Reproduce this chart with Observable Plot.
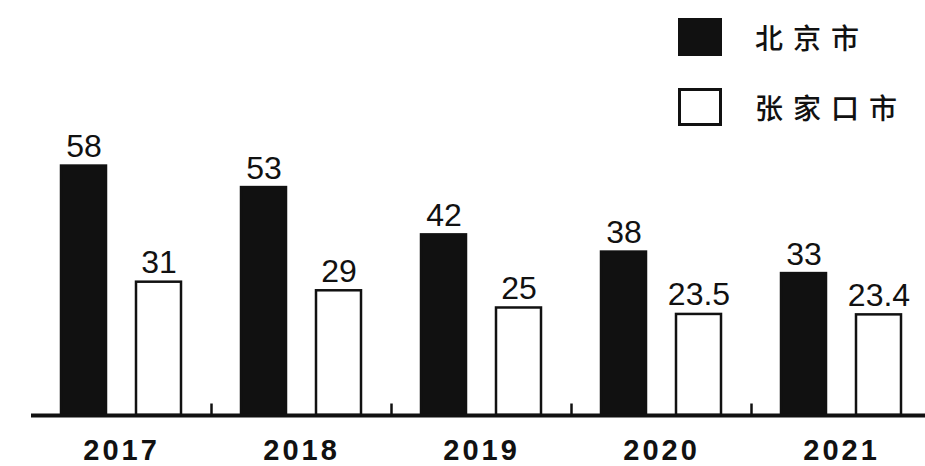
<!DOCTYPE html>
<html>
<head>
<meta charset="utf-8">
<script src="https://cdn.jsdelivr.net/npm/d3@7"></script>
<script src="https://cdn.jsdelivr.net/npm/@observablehq/plot@0.6"></script>
<style>
  html, body { margin: 0; padding: 0; background: #fff; }
  #wrap { position: relative; width: 925px; height: 466px; overflow: hidden; }
  #legend { position: absolute; left: 678px; top: 18px; font-family: "Noto Sans CJK SC", sans-serif; font-size: 28px; font-weight: 500; color: #111; }
  .row { display: flex; align-items: center; height: 38px; margin-bottom: 32px; }
  .sw { width: 44px; height: 38px; box-sizing: border-box; border: 3px solid #111; margin-right: 33px; }
  .lab { letter-spacing: 10px; line-height: 1; }
  #chart g[aria-label="fx-axis tick label"] text { letter-spacing: 3px; }
</style>
</head>
<body>
<div id="wrap">
  <div id="chart"></div>
  <div id="legend"></div>
</div>
<script>
const years = ["2017", "2018", "2019", "2020", "2021"];
const series = ["北京市", "张家口市"];
const beijing = [58, 53, 42, 38, 33];
const zhangjiakou = [31, 29, 25, 23.5, 23.4];
const colors = ["#111", "#fff"];

const data = [];
years.forEach((y, i) => {
  data.push({year: y, series: series[0], value: beijing[i]});
  data.push({year: y, series: series[1], value: zhangjiakou[i]});
});

const vtick = { draw(ctx) { ctx.moveTo(0, 0); ctx.lineTo(0, -12); } };

const chart = Plot.plot({
  width: 925,
  height: 466,
  marginLeft: 31,
  marginRight: -6,
  marginTop: 0,
  marginBottom: 51,
  style: { fontFamily: "Liberation Sans, Arial, sans-serif", background: "white", color: "#111", overflow: "hidden" },
  fx: { domain: years, padding: 0, label: null, axis: null },
  x: { domain: series, paddingInner: 0.3947, paddingOuter: 0.3816, axis: null },
  y: { domain: [0, 96.5], axis: null },
  color: { domain: series, range: colors },
  marks: [
    Plot.barY(data, { fx: "year", x: "series", y: "value", fill: "series", stroke: "#111", strokeWidth: 2.5 }),
    Plot.text(data, { fx: "year", x: "series", y: "value", text: d => String(d.value), lineAnchor: "bottom", dy: -9, fontSize: 32, fill: "#111" }),
    Plot.ruleY([0], { stroke: "#111", strokeWidth: 4 }),
    Plot.dot(years.slice(1), { fx: d => d, frameAnchor: "bottom-left", symbol: vtick, fill: "none", stroke: "#111", strokeWidth: 2.5 }),
    Plot.axisFx({ anchor: "bottom", fontSize: 29, tickSize: 0, tickPadding: 24, fontWeight: 600, label: null, fill: "#111" })
  ]
});
document.getElementById("chart").appendChild(chart);

const legend = document.getElementById("legend");
series.forEach((s, i) => {
  const row = document.createElement("div");
  row.className = "row";
  const sw = document.createElement("div");
  sw.className = "sw";
  sw.style.background = colors[i];
  const lab = document.createElement("span");
  lab.className = "lab";
  lab.textContent = s;
  row.appendChild(sw);
  row.appendChild(lab);
  legend.appendChild(row);
});
</script>
</body>
</html>
